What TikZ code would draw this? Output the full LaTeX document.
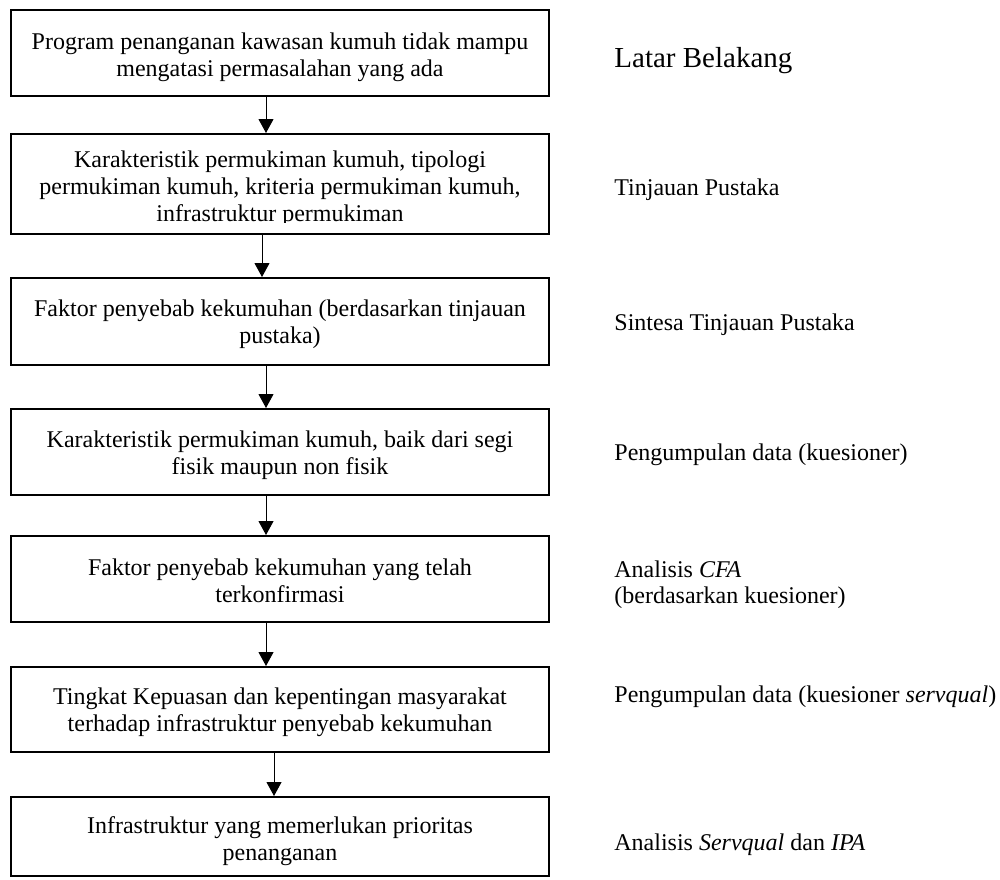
\documentclass[tikz,border=0pt]{standalone}
\usepackage{fontspec}
\setmainfont{Liberation Serif}
\usetikzlibrary{arrows.meta}
\begin{document}
\begin{tikzpicture}[x=0.5pt,y=-0.5pt,
  box/.style={draw=black, line width=1pt, rectangle, minimum width=269pt, inner sep=0pt, fill=none},
  txt/.style={align=center, inner sep=0pt, anchor=base, font=\fontsize{12pt}{13.5pt}\selectfont},
  lbl/.style={align=left, inner sep=0pt, anchor=base west, font=\fontsize{12pt}{13pt}\selectfont},
  big/.style={inner sep=0pt, anchor=base west, font=\fontsize{14.5pt}{16pt}\selectfont},
  arr/.style={line width=0.5pt, -{Triangle[length=7pt,width=7.5pt]}}]
\useasboundingbox (0,0) rectangle (1000,879);
% boxes
\node[box, minimum height=43pt]   (b1) at (280,53) {};
\node[box, minimum height=50pt]   (b2) at (280,184) {};
\node[box, minimum height=43.5pt] (b3) at (280,321.5) {};
\node[box, minimum height=43pt]   (b4) at (280,452) {};
\node[box, minimum height=43pt]   (b5) at (280,579) {};
\node[box, minimum height=42.5pt] (b6) at (280,709.5) {};
\node[box, minimum height=39.5pt] (b7) at (280,836.5) {};
% box texts (anchor base = baseline of last line)
\node[txt] (t1) at (280,76) {Program penanganan kawasan kumuh tidak mampu\\mengatasi permasalahan yang ada};
\begin{scope}
\clip (12,135) rectangle (548,222.5);
\node[txt] (t2) at (280,221) {Karakteristik permukiman kumuh, tipologi\\permukiman kumuh, kriteria permukiman kumuh,\\infrastruktur permukiman};
\end{scope}
\node[txt] (t3) at (280,343) {Faktor penyebab kekumuhan (berdasarkan tinjauan\\pustaka)};
\node[txt] (t4) at (280,474) {Karakteristik permukiman kumuh, baik dari segi\\fisik maupun non fisik};
\node[txt] (t5) at (280,602) {Faktor penyebab kekumuhan yang telah\\terkonfirmasi};
\node[txt] (t6) at (280,731) {Tingkat Kepuasan dan kepentingan masyarakat\\terhadap infrastruktur penyebab kekumuhan};
\node[txt] (t7) at (280,860) {Infrastruktur yang memerlukan prioritas\\penanganan};
% arrows
\draw[arr] ([xshift=-7pt]b1.south) -- ([xshift=-7pt]b2.north);
\draw[arr] ([xshift=-9pt]b2.south) -- ([xshift=-9pt]b3.north);
\draw[arr] ([xshift=-7pt]b3.south) -- ([xshift=-7pt]b4.north);
\draw[arr] ([xshift=-7pt]b4.south) -- ([xshift=-7pt]b5.north);
\draw[arr] ([xshift=-7pt]b5.south) -- ([xshift=-7pt]b6.north);
\draw[arr] ([xshift=-3pt]b6.south) -- ([xshift=-3pt]b7.north);
% right labels
\node[big] (l1) at (614,67) {Latar Belakang};
\node[lbl] (l2) at (614,195) {Tinjauan Pustaka};
\node[lbl] (l3) at (614,330) {Sintesa Tinjauan Pustaka};
\node[lbl] (l4) at (614,460) {Pengumpulan data (kuesioner)};
\node[lbl] (l5) at (614,603) {Analisis \textit{CFA}\\(berdasarkan kuesioner)};
\node[lbl] (l6) at (614,702) {Pengumpulan data (kuesioner \textit{servqual})};
\node[lbl] (l7) at (614,850) {Analisis \textit{Servqual} dan \textit{IPA}};
\end{tikzpicture}
\end{document}
